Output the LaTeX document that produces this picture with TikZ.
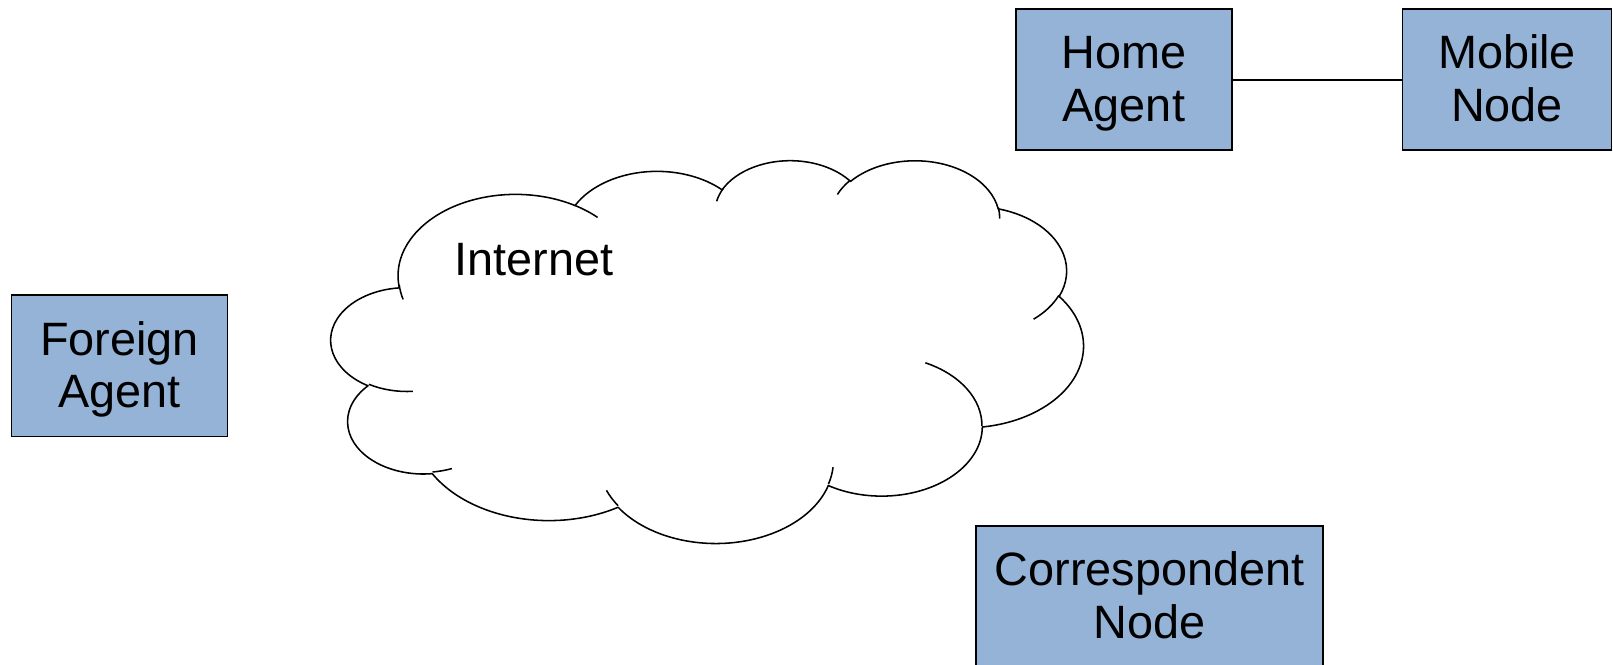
\documentclass[tikz,border=0pt]{standalone}
\usepackage{fontspec}
\setmainfont{Liberation Sans}
\definecolor{boxblue}{HTML}{95B3D7}
\newcommand\cldang[5]{%
  \pgfmathsetmacro\cldtmpa{atan2((#2)*sin(#4),(#3)*cos(#4))}%
  \pgfmathsetmacro\cldtmpb{atan2((#2)*sin((#4)+(#5)),(#3)*cos((#4)+(#5)))}%
  \pgfmathsetmacro\cldtmpd{\cldtmpb-(\cldtmpa)}%
  \pgfmathsetmacro\cldtmpd{ifthenelse(\cldtmpd<0,\cldtmpd+360,\cldtmpd)}%
  \expandafter\let\csname cldS#1\endcsname\cldtmpa
  \expandafter\let\csname cldD#1\endcsname\cldtmpd
}
\newcommand\twolines[2]{\begin{tabular}[t]{@{}c@{}}#1\\#2\end{tabular}}
\tikzset{
  boxnode/.style={draw=black, line width=1.6pt, fill=boxblue, inner sep=0pt,
    font=\fontsize{45.5pt}{51pt}\selectfont, text height=40pt, text depth=61pt},
  cloudline/.style={draw=black, line width=1.5pt, line join=round},
  link/.style={draw=black, line width=1.6pt},
}
\begin{document}
\begin{tikzpicture}[x=1pt, y=-1pt]
\clip (0,0) rectangle (1568,646);
% cloud arcs: id, wR, hR, start (visual deg), sweep
\cldang{a}{15.6319}{21.2731}{-190.48748}{123.78053}
\cldang{b}{12.3449}{16.8218}{-144.10238}{89.94523}
\cldang{c}{10.1042}{13.7616}{-145.80792}{99.72302}
\cldang{d}{11.2431}{15.2662}{-130.98607}{117.24173}
\cldang{e}{12.3449}{16.8356}{-78.70888}{109.02692}
\cldang{f}{15.6829}{21.3426}{-46.26725}{130.269}
\cldang{g}{13.3912}{18.2106}{0.62502}{114.03333}
\cldang{h}{15.6296}{21.3310}{22.4516}{115.17255}
\cldang{i}{17.8704}{24.4051}{66.24263}{75.71102}
\cldang{j}{10.0926}{13.6991}{-274.94208}{146.73557}
\cldang{k}{10.0579}{13.7616}{-246.8285}{152.51885}
% inner creases
\cldang{l}{10.0579}{13.7616}{86.742}{26.4295}
\cldang{m}{10.0926}{13.6991}{73.61047}{11.44747}
\cldang{n}{15.6296}{21.3310}{137.62415}{14.0811}
\cldang{o}{15.6296}{21.3310}{6.45327}{15.99835}
\cldang{p}{13.3912}{18.2106}{-70.29235}{70.91737}
\cldang{q}{12.3449}{16.8356}{30.31803}{27.7515}
\cldang{r}{11.2431}{15.2662}{-13.74433}{14.8589}
\cldang{s}{11.2431}{15.2662}{-149.18145}{18.19537}
\cldang{t}{10.1042}{13.7616}{-163.49427}{17.68635}
\cldang{u}{15.6319}{21.2731}{-66.70695}{12.31935}
\cldang{v}{15.6319}{21.2731}{159.12362}{13.56507}
\begin{scope}[shift={(322,155)}, x=7.31pt, y=-3.72pt]
  \path[cloudline, fill=white] (9.02778,33.26389)
    arc[start angle=\cldSa, delta angle=\cldDa, x radius=15.6319, y radius=21.2731]
    arc[start angle=\cldSb, delta angle=\cldDb, x radius=12.3449, y radius=16.8218]
    arc[start angle=\cldSc, delta angle=\cldDc, x radius=10.1042, y radius=13.7616]
    arc[start angle=\cldSd, delta angle=\cldDd, x radius=11.2431, y radius=15.2662]
    arc[start angle=\cldSe, delta angle=\cldDe, x radius=12.3449, y radius=16.8356]
    arc[start angle=\cldSf, delta angle=\cldDf, x radius=15.6829, y radius=21.3426]
    arc[start angle=\cldSg, delta angle=\cldDg, x radius=13.3912, y radius=18.2106]
    arc[start angle=\cldSh, delta angle=\cldDh, x radius=15.6296, y radius=21.3310]
    arc[start angle=\cldSi, delta angle=\cldDi, x radius=17.8704, y radius=24.4051]
    arc[start angle=\cldSj, delta angle=\cldDj, x radius=10.0926, y radius=13.6991]
    arc[start angle=\cldSk, delta angle=\cldDk, x radius=10.0579, y radius=13.7616]
    -- cycle;
  \path[cloudline]
    (10.8634,60.5949) arc[start angle=\cldSl, delta angle=\cldDl, x radius=10.0579, y radius=13.7616]
    (16.0370,80.7847) arc[start angle=\cldSm, delta angle=\cldDm, x radius=10.0926, y radius=13.6991]
    (38.1435,90.4861) arc[start angle=\cldSn, delta angle=\cldDn, x radius=15.6296, y radius=21.3310]
    (66.7292,80.4421) arc[start angle=\cldSo, delta angle=\cldDo, x radius=15.6296, y radius=21.3310]
    (79.0023,53.1343) arc[start angle=\cldSp, delta angle=\cldDp, x radius=13.3912, y radius=18.2106]
    (96.7546,35.5417) arc[start angle=\cldSq, delta angle=\cldDq, x radius=12.3449, y radius=16.8356]
    (88.7130,12.5602) arc[start angle=\cldSr, delta angle=\cldDr, x radius=11.2431, y radius=15.2662]
    (67.3102,9.1481) arc[start angle=\cldSs, delta angle=\cldDs, x radius=11.2431, y radius=15.2662]
    (51.2523,10.9259) arc[start angle=\cldSt, delta angle=\cldDt, x radius=10.1042, y radius=13.7616]
    (32.4074,12.0185) arc[start angle=\cldSu, delta angle=\cldDu, x radius=15.6319, y radius=21.2731]
    (9.5532,36.5486) arc[start angle=\cldSv, delta angle=\cldDv, x radius=15.6319, y radius=21.2731];
\end{scope}
\node[anchor=base west, inner sep=0pt, font=\fontsize{45.5pt}{51pt}\selectfont] (inet) at (441.5,268) {Internet};
\node[boxnode, minimum width=209.6pt, minimum height=137pt] (ha) at (1092.5,77.5) {\twolines{Home}{Agent}};
\node[boxnode, minimum width=203pt, minimum height=137pt] (mn) at (1465,77.5) {\twolines{Mobile}{Node}};
\node[boxnode, minimum width=210pt, minimum height=137.7pt] (fa) at (116.3,355.6) {\twolines{Foreign}{Agent}};
\node[boxnode, minimum width=337.2pt, minimum height=137pt] (cn) at (1117.4,579.8) {\twolines{Correspondent}{Node}};
\draw[link] (ha.east) -- (mn.west);
\end{tikzpicture}
\end{document}
